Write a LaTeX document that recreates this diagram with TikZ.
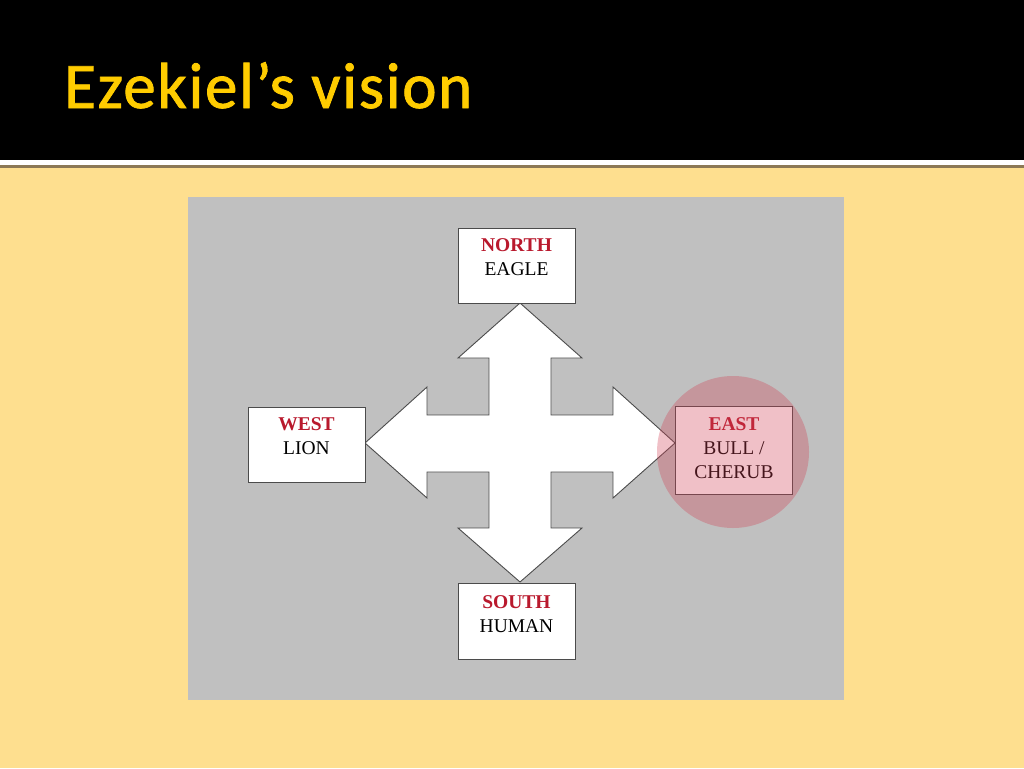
\documentclass[tikz,border=0pt]{standalone}
\usepackage{fontspec}
\usepackage{xcolor}
\usepackage{tikz}
\usetikzlibrary{positioning}
\setmainfont{Liberation Serif}
\newfontfamily\titlefont[LetterSpace=2.5, FakeBold=1.2]{Carlito}
\definecolor{slideyellow}{RGB}{254,223,143}
\definecolor{titleyellow}{RGB}{255,204,0}
\definecolor{panelgray}{RGB}{192,192,192}
\definecolor{labelred}{RGB}{185,25,45}
\definecolor{edgegray}{RGB}{75,75,75}
\definecolor{ruleshade}{RGB}{140,120,85}
\definecolor{glowred}{RGB}{210,65,85}

\begin{document}
\begin{tikzpicture}[
  x=1pt, y=-1pt,
  box/.style={draw=edgegray, fill=white, line width=0.9pt, minimum width=117pt, inner sep=0pt},
  lbl/.style={align=center, inner sep=0pt, font=\fontsize{19.5}{24}\selectfont},
]
\useasboundingbox (0,0) rectangle (1024,768);
% slide background and title bar
\fill[slideyellow] (0,0) rectangle (1024,768);
\fill[black] (0,0) rectangle (1024,160);
\fill[white] (0,160) rectangle (1024,165);
\fill[ruleshade] (0,165) rectangle (1024,167.5);
\node[anchor=base west, inner sep=0pt, text=titleyellow,
  font=\titlefont\fontsize{65}{65}\selectfont] (title) at (64,108) {Ezekiel’s vision};
\fill[panelgray] (188,197) rectangle (844,700);

% four-way arrow
\coordinate (hub) at (520,443);
\draw[draw=edgegray, fill=white, line width=0.9pt, line join=miter]
  (520,303) -- (582,358) -- (551,358) -- (551,415) -- (613,415) -- (613,387)
  -- (675,443) -- (613,498) -- (613,472) -- (551,472) -- (551,528) -- (582,528)
  -- (520,582) -- (458,528) -- (489,528) -- (489,472) -- (427,472) -- (427,498)
  -- (365,443) -- (427,387) -- (427,415) -- (489,415) -- (489,358) -- (458,358) -- cycle;

% the four quarters
\node[box, minimum height=75pt] (north) at (516.5,265.5) {};
\node[box, minimum height=75pt] (west) at (306.5,444.5) {};
\node[box, minimum height=88pt] (east) at (734,450) {};
\node[box, minimum height=76pt] (south) at (516.5,621) {};
\node[lbl, below=11pt of north.north] (northtxt) {\textcolor{labelred}{\textbf{NORTH}}\\EAGLE};
\node[lbl, below=11pt of west.north] (westtxt) {\textcolor{labelred}{\textbf{WEST}}\\LION};
\node[lbl, below=12pt of east.north] (easttxt) {\textcolor{labelred}{\textbf{EAST}}\\BULL /\\CHERUB};
\node[lbl, below=13pt of south.north] (southtxt) {\textcolor{labelred}{\textbf{SOUTH}}\\HUMAN};

% highlight on the east
\fill[glowred, opacity=0.33] (733,452) circle (76);
\end{tikzpicture}
\end{document}
